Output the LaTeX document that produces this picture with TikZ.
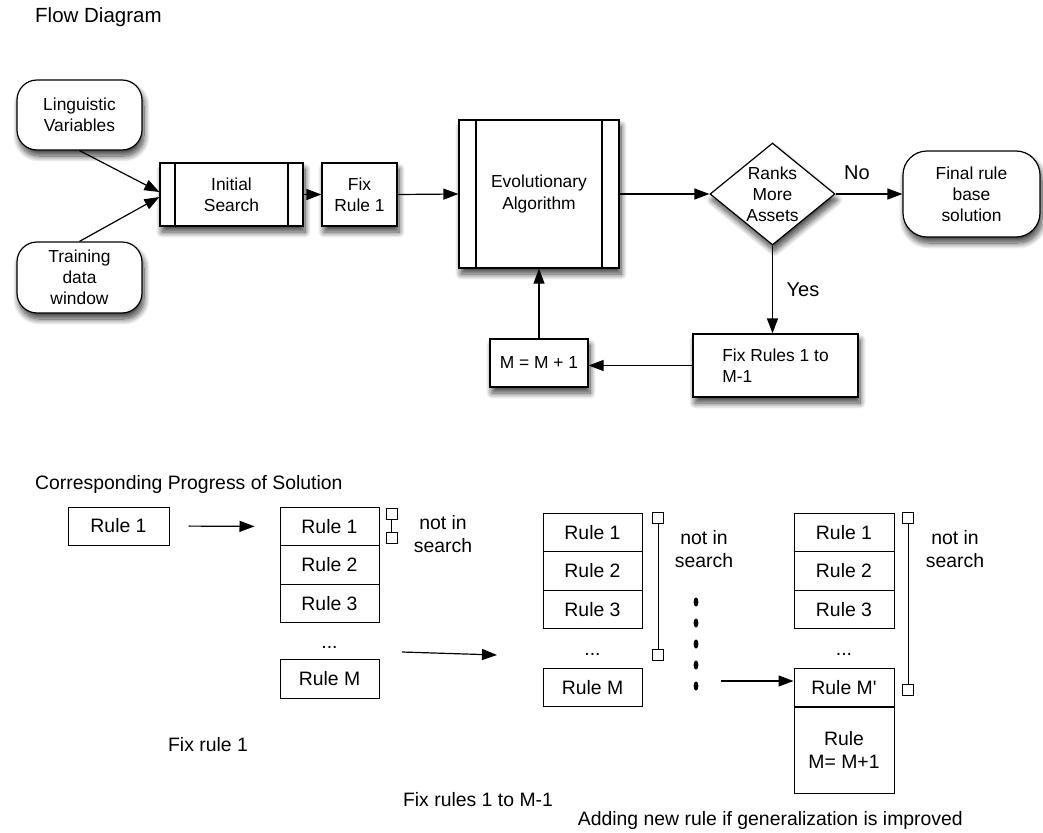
\documentclass[tikz,border=0pt]{standalone}
\usepackage{fontspec}
\setmainfont{Liberation Sans}
\usetikzlibrary{arrows.meta,shapes.geometric,shadows.blur}
\newcommand{\straightquote}{{\addfontfeature{Ligatures=TeXOff}'}}
\begin{document}
\begin{tikzpicture}[x=1pt,y=-1pt,
  every node/.style={align=center,inner sep=0pt},
  topfont/.style={font=\fontsize{17.4}{21}\selectfont},
  botfont/.style={font=\fontsize{19.4}{22.5}\selectfont},
  shade/.style={blur shadow={shadow xshift=2pt,shadow yshift=-6pt,
      shadow blur radius=6pt,shadow blur steps=12,shadow opacity=75}},
  box/.style={draw,line width=1.2pt,fill=white,shade,topfont},
  termbox/.style={box,rounded corners=20pt},
  procbox/.style={box,path picture={
      \draw[line width=1.2pt]
        ([xshift=#1]path picture bounding box.north west) --
        ([xshift=#1]path picture bounding box.south west)
        ([xshift=-#1]path picture bounding box.north east) --
        ([xshift=-#1]path picture bounding box.south east);}},
  decbox/.style={box,diamond,aspect=1.225},
  rulebox/.style={draw,line width=1pt,fill=white,botfont,minimum width=100pt,minimum height=38.5pt},
  sq/.style={draw,line width=1pt,fill=white,minimum size=11pt},
  arr/.style={line width=1.2pt,-{Triangle[length=15pt,width=11pt]}},
  link/.style={line width=1pt},
  dot/.style={fill=black}
]
\useasboundingbox (0,0) rectangle (1043,832);

% headings
\node[anchor=base west,font=\fontsize{20.5}{24}\selectfont] (title) at (35,23) {Flow Diagram};
\node[anchor=base west,botfont] (progress) at (35,489) {Corresponding Progress of Solution};

% flow diagram
\node[termbox,minimum width=125pt,minimum height=70pt] (ling) at (79.5,115) {Linguistic\\Variables};
\node[termbox,minimum width=125pt,minimum height=71pt] (train) at (79.5,277.5) {Training\\data\\window};
\node[procbox=15pt,minimum width=143pt,minimum height=63pt] (init) at (231.5,194.5) {Initial\\Search};
\node[box,minimum width=75pt,minimum height=63pt] (fix1) at (359.5,194.5) {Fix\\Rule 1};
\node[procbox=17pt,minimum width=160pt,minimum height=148pt] (evo) at (539,194) {Evolutionary\\Algorithm};
\node[decbox,minimum width=125pt,minimum height=102pt] (dec) at (772.5,194) {Ranks\\More\\Assets};
\node[termbox,rounded corners=24pt,minimum width=137pt,minimum height=86pt] (final) at (971.5,194) {Final rule\\base\\solution};
\node[box,align=left,minimum width=165pt,minimum height=63pt] (fixm) at (775.5,365.5) {Fix Rules 1 to\\M-1};
\node[box,minimum width=98pt,minimum height=48pt] (mplus) at (539,363) {M = M + 1};

\draw[arr] (ling.south) -- ([yshift=2.5pt]init.west);
\draw[arr] (train.north) -- ([yshift=-2.5pt]init.west);
\draw[arr] (init.east) -- (fix1.west);
\draw[arr] (fix1.east) -- (evo.west);
\draw[arr] (evo.east) -- (dec.west);
\draw[arr] (dec.east) -- (final.west);
\node[font=\fontsize{20}{24}\selectfont] (no) at (857,173) {No};
\draw[arr] (dec.south) -- (dec.south |- fixm.north);
\node[font=\fontsize{20}{24}\selectfont] (yes) at (803,290) {Yes};
\draw[arr] (fixm.west) -- (fixm.west -| mplus.east);
\draw[arr] (mplus.north) -- (evo.south);

% progress of solution
\node[rulebox,minimum width=101pt,minimum height=38pt] (r0) at (118.5,526) {Rule 1};

\node[rulebox,minimum width=99pt] (s1a) at (329.5,526.5) {Rule 1};
\node[rulebox,minimum width=99pt] (s1b) at (329.5,565) {Rule 2};
\node[rulebox,minimum width=99pt] (s1c) at (329.5,603.5) {Rule 3};
\node[botfont,anchor=base] (s1d) at (329.5,648) {...};
\node[rulebox,minimum width=99pt] (s1m) at (329.5,679) {Rule M};

\node[rulebox,minimum width=99pt] (s2a) at (592.5,532.5) {Rule 1};
\node[rulebox,minimum width=99pt] (s2b) at (592.5,571) {Rule 2};
\node[rulebox,minimum width=99pt] (s2c) at (592.5,609.5) {Rule 3};
\node[botfont,anchor=base] (s2d) at (592.5,655) {...};
\node[rulebox,minimum width=99pt] (s2m) at (592.5,687.5) {Rule M};

\node[rulebox] (s3a) at (844,532.5) {Rule 1};
\node[rulebox] (s3b) at (844,571) {Rule 2};
\node[rulebox] (s3c) at (844,609.5) {Rule 3};
\node[botfont,anchor=base] (s3d) at (844,655) {...};
\node[rulebox] (s3m) at (844,687.5) {Rule M\straightquote};
\node[rulebox,minimum height=86pt] (s3n) at (844,750) {Rule\\M= M+1};

% "not in search" brackets
\node[sq] (q1t) at (391.5,513.5) {};
\node[sq] (q1b) at (391.5,537.5) {};
\draw[link] (q1t) -- (q1b);
\node[botfont] (n1) at (443,534) {not in\\search};

\node[sq] (q2t) at (658,518) {};
\node[sq] (q2b) at (658,654.5) {};
\draw[link] (q2t) -- (q2b);
\node[botfont] (n2) at (704,549) {not in\\search};

\node[sq] (q3t) at (908,518) {};
\node[sq] (q3b) at (908,689.5) {};
\draw[link] (q3t) -- (q3b);
\node[botfont] (n3) at (955,549) {not in\\search};

% vertical ellipsis between stacks
\foreach \i/\yy in {1/602,2/623,3/644,4/665,5/686}
  \fill[dot] (696,\yy) ellipse [x radius=2.4pt,y radius=4.6pt];

% progress arrows
\coordinate (p1s) at (402,652);
\coordinate (p1e) at (497,655);
\coordinate (p2s) at (721,681);
\draw[arr,shorten <=19pt,shorten >=25pt] (r0.east) -- (s1a.west);
\draw[arr] (p1s) -- (p1e);
\draw[arr] (p2s) -- (p2s -| s3m.west);

% captions
\node[botfont] (cap1) at (208,745) {Fix rule 1};
\node[botfont] (cap2) at (478,800) {Fix rules 1 to M-1};
\node[botfont,anchor=base east] (cap3) at (963,825) {Adding new rule if generalization is improved};
\end{tikzpicture}
\end{document}
